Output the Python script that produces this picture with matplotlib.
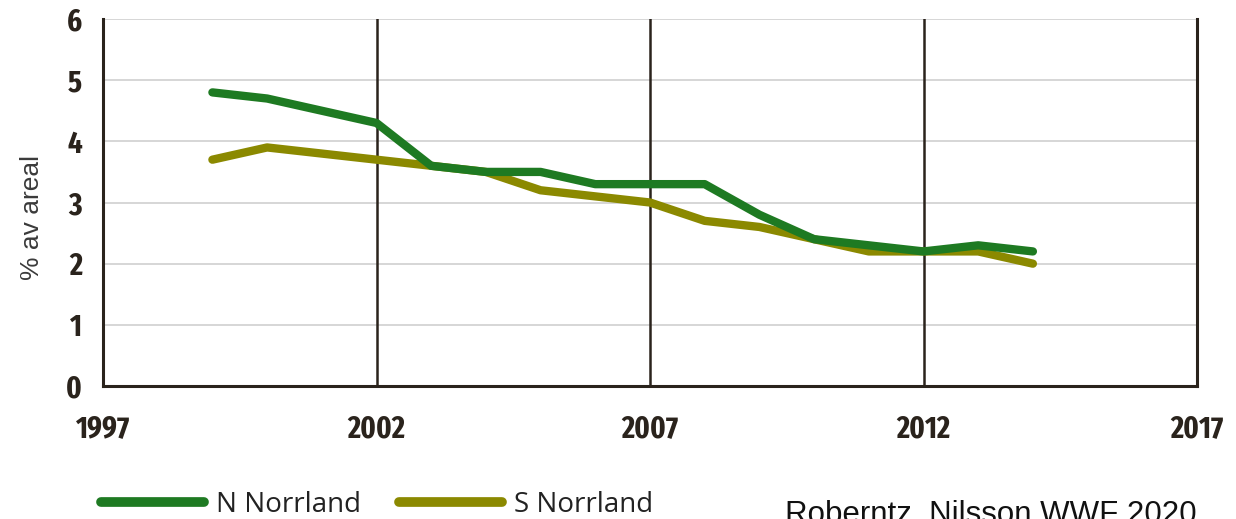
import matplotlib
matplotlib.use("Agg")
import matplotlib.pyplot as plt
from matplotlib.lines import Line2D
from matplotlib import font_manager as fm

years = [1999, 2000, 2001, 2002, 2003, 2004, 2005, 2006, 2007, 2008, 2009, 2010, 2011, 2012, 2013, 2014]
n_norrland = [4.8, 4.7, 4.5, 4.3, 3.6, 3.5, 3.5, 3.3, 3.3, 3.3, 2.8, 2.4, 2.3, 2.2, 2.3, 2.2]
s_norrland = [3.7, 3.9, 3.8, 3.7, 3.6, 3.5, 3.2, 3.1, 3.0, 2.7, 2.6, 2.4, 2.2, 2.2, 2.2, 2.0]
x_ticks = [1997, 2002, 2007, 2012, 2017]
y_ticks = [0, 1, 2, 3, 4, 5, 6]
series_labels = ["N Norrland", "S Norrland"]
source_text = "Roberntz, Nilsson WWF 2020"
y_label = "% av areal"

green = "#1e7a22"
olive = "#8b8900"
dark = "#2a231c"


def pick_condensed_bold():
    cands = []
    for f in fm.fontManager.ttflist:
        key = (f.fname + " " + f.name).lower()
        if not any(k in key for k in ("condensed", "narrow")):
            continue
        w = f.weight if isinstance(f.weight, int) else 700 if "bold" in str(f.weight) else 400
        if w < 600:
            continue
        if "italic" in key or "oblique" in key or f.style != "normal":
            continue
        if "semibold" in key or "extrabold" in key or "black" in key:
            score_w = 1
        else:
            score_w = 0
        if "extracondensed" in key or "extra condensed" in key:
            score_s = 0
        elif "semicondensed" in key or "semi condensed" in key:
            score_s = 2
        else:
            score_s = 1
        cands.append((score_s + score_w, f.fname))
    if cands:
        cands.sort()
        return fm.FontProperties(fname=cands[0][1])
    return fm.FontProperties(family="DejaVu Sans", weight="bold")


tick_fp = pick_condensed_bold()

fig = plt.figure(figsize=(12.36, 5.19), dpi=100)
ax = fig.add_axes([103/1236, 1-386/519, (1197-103)/1236, (386-19)/519])

ax.set_xlim(1997, 2017)
ax.set_ylim(0, 6)

for y in y_ticks[1:]:
    ax.axhline(y, color="#cfcfcf", lw=1.2, zorder=1)
for x in x_ticks[1:-1]:
    ax.axvline(x, color=dark, lw=1.8, zorder=2)

ls, = ax.plot(years, s_norrland, color=olive, lw=6, solid_capstyle="round", solid_joinstyle="round", zorder=3)
ln, = ax.plot(years, n_norrland, color=green, lw=6, solid_capstyle="round", solid_joinstyle="round", zorder=4)

for side in ["left", "right", "bottom"]:
    ax.spines[side].set_color(dark)
    ax.spines[side].set_linewidth(2.2)
ax.spines["top"].set_visible(False)

# size tick font so that a 4-digit year is about 58 px wide, capped at 26 pt
renderer = fig.canvas.get_renderer()
probe = fig.text(0, 0, "2002", fontproperties=tick_fp, fontsize=20)
w20 = probe.get_window_extent(renderer).width
probe.remove()
tick_size = min(26, 20 * 58.0 / w20)

ax.set_xticks(x_ticks)
ax.set_xticklabels([str(v) for v in x_ticks])
ax.set_yticks(y_ticks)
ax.set_yticklabels([str(v) for v in y_ticks])
for lab in ax.get_xticklabels() + ax.get_yticklabels():
    lab.set_fontproperties(tick_fp)
    lab.set_fontsize(tick_size)
    lab.set_color(dark)
ax.tick_params(axis="both", length=0)
ax.tick_params(axis="y", pad=15)
ax.tick_params(axis="x", pad=20)

fig.text(32/1236, 1-218/519, y_label, rotation=90, ha="center", va="center",
         fontsize=19, color="#3a3a3a", family=["Liberation Sans", "DejaVu Sans"])

h1 = Line2D([], [], color=green, lw=7, solid_capstyle="round")
h2 = Line2D([], [], color=olive, lw=7, solid_capstyle="round")
leg = fig.legend([h1, h2], series_labels, loc="center left",
                 bbox_to_anchor=(101/1236, 1-505/519), ncol=2, frameon=False,
                 prop=dict(family=["Open Sans", "DejaVu Sans"], size=20),
                 handlelength=3.7, handletextpad=0.45, columnspacing=1.35, borderpad=0, borderaxespad=0)
for t in leg.get_texts():
    t.set_color("#222222")

fig.text(785/1236, 1-500/519, source_text, ha="left", va="top", fontsize=22.5,
         color="#111111", family=["Liberation Sans", "DejaVu Sans"])

fig.savefig("out.png", dpi=100)
